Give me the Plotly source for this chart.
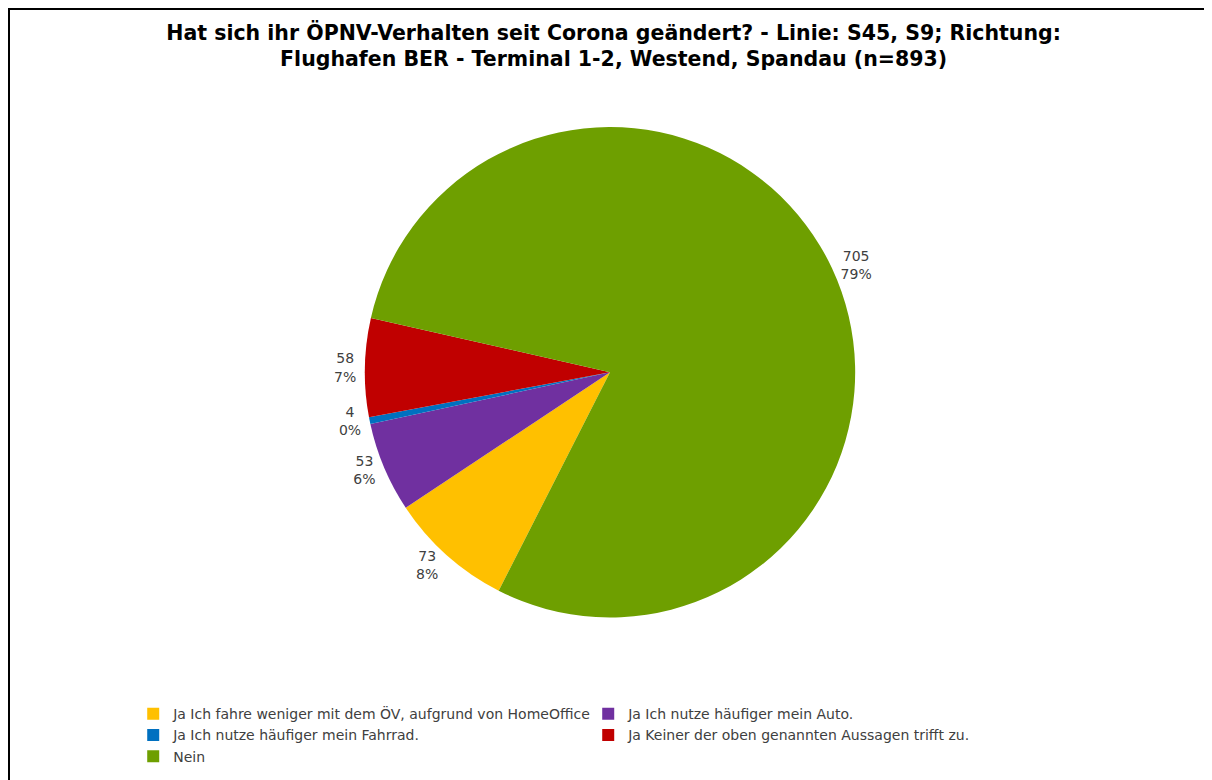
import plotly.graph_objects as go

categories = [
    "Ja Ich fahre weniger mit dem ÖV, aufgrund von HomeOffice",
    "Ja Ich nutze häufiger mein Auto.",
    "Ja Ich nutze häufiger mein Fahrrad.",
    "Ja Keiner der oben genannten Aussagen trifft zu.",
    "Nein",
]
counts = [73, 53, 4, 58, 705]
percent_labels = ["8%", "6%", "0%", "7%", "79%"]
colors = ["#FFC000", "#7030A0", "#0070C0", "#C00000", "#6E9F00"]

title_text = ("Hat sich ihr ÖPNV-Verhalten seit Corona geändert? - Linie: S45, S9; Richtung:<br>"
              "Flughafen BER - Terminal 1-2, Westend, Spandau (n=893)")

# the page body adds an 8px offset; figure is sized to fill the remaining window
W, H = 1204, 772
T, B = 82, 92
plot_h = H - T - B

fig = go.Figure(go.Pie(
    labels=categories,
    values=counts,
    text=percent_labels,
    sort=False,
    direction="clockwise",
    rotation=207,
    marker=dict(colors=colors, line=dict(width=0)),
    textposition="outside",
    texttemplate="%{value}<br>%{text}",
    textfont=dict(family="DejaVu Sans", size=14, color="#404040"),
    hoverinfo="label+value+percent",
    domain=dict(x=[0.22, 0.78], y=[0.118, 0.938]),
    showlegend=True,
))

fig.update_layout(
    width=W,
    height=H,
    paper_bgcolor="white",
    plot_bgcolor="white",
    margin=dict(l=0, r=0, t=T, b=B),
    title=dict(
        text="<b>" + title_text + "</b>",
        x=0.503, xanchor="center",
        y=0.959, yanchor="top",
        font=dict(family="DejaVu Sans", size=20.5, color="black"),
    ),
    legend=dict(
        orientation="h",
        x=0.104, xanchor="left",
        y=-0.017, yanchor="top",
        entrywidth=410, entrywidthmode="pixels",
        font=dict(family="DejaVu Sans", size=14, color="#404040"),
        traceorder="normal",
    ),
    shapes=[dict(
        type="rect", xref="paper", yref="paper",
        x0=1/W, x1=1200/W, y0=-0.3, y1=(H - B - 1)/plot_h,
        line=dict(color="black", width=2), fillcolor="rgba(0,0,0,0)",
        layer="above",
    )],
)

fig.write_html("out.html")
